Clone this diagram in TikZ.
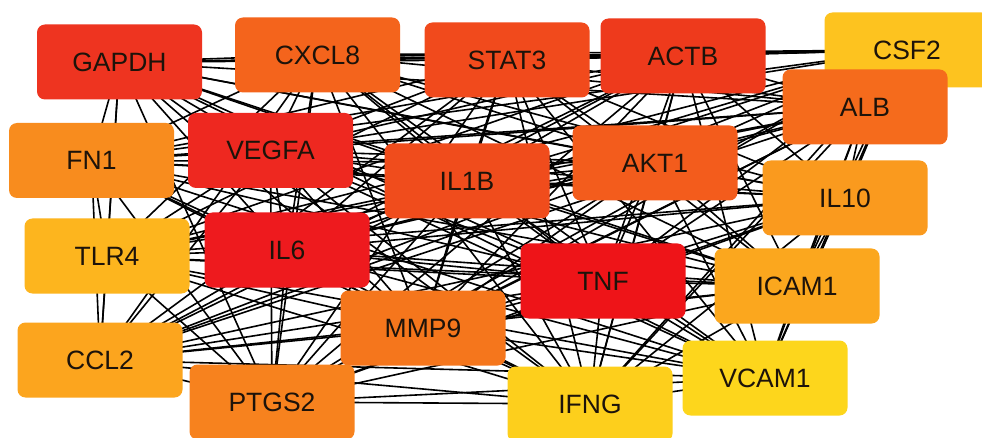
\documentclass[tikz,border=0pt]{standalone}
\usepackage{fontspec}
\setmainfont{Liberation Sans}
\pgfdeclarelayer{background}
\pgfsetlayers{background,main}
\definecolor{cGAPDH}{HTML}{EE3420}
\definecolor{cCXCL8}{HTML}{F4641C}
\definecolor{cSTAT3}{HTML}{F14A1C}
\definecolor{cACTB}{HTML}{EE3A1C}
\definecolor{cCSF2}{HTML}{FDC31F}
\definecolor{cALB}{HTML}{F56B1C}
\definecolor{cFNone}{HTML}{F88C1E}
\definecolor{cVEGFA}{HTML}{EE2820}
\definecolor{cILoneB}{HTML}{F04C1C}
\definecolor{cAKTone}{HTML}{F35C1C}
\definecolor{cILten}{HTML}{FA9A1E}
\definecolor{cTLRfour}{HTML}{FDB51E}
\definecolor{cILsix}{HTML}{EE1A1E}
\definecolor{cTNF}{HTML}{EE1418}
\definecolor{cICAMone}{HTML}{FBA71E}
\definecolor{cMMPnine}{HTML}{F5761C}
\definecolor{cCCLtwo}{HTML}{FCA51E}
\definecolor{cPTGStwo}{HTML}{F7821E}
\definecolor{cIFNG}{HTML}{FDCF1C}
\definecolor{cVCAMone}{HTML}{FDD61C}
\tikzset{
  gene/.style={rounded corners=8pt, minimum width=165pt, minimum height=75pt,
    inner sep=0pt, font=\fontsize{26.5}{26.5}\selectfont, text=black!85!brown},
  edge/.style={draw=black, line width=1.6pt}
}
\begin{document}
\begin{tikzpicture}[x=1pt,y=-1pt]
\useasboundingbox (0,0) rectangle (982,438);
\node[gene, fill=cGAPDH] (GAPDH) at (119.5,62) {GAPDH};
\node[gene, fill=cCXCL8] (CXCL8) at (317.5,55) {CXCL8};
\node[gene, fill=cSTAT3] (STAT3) at (507,60) {STAT3};
\node[gene, fill=cACTB] (ACTB) at (683,56) {ACTB};
\node[gene, fill=cCSF2] (CSF2) at (907,50) {CSF2};
\node[gene, fill=cALB] (ALB) at (865,107) {ALB};
\node[gene, fill=cFNone] (FN1) at (91.5,160.5) {FN1};
\node[gene, fill=cVEGFA] (VEGFA) at (270.5,150.5) {VEGFA};
\node[gene, fill=cILoneB] (IL1B) at (467,181) {IL1B};
\node[gene, fill=cAKTone] (AKT1) at (655,163) {AKT1};
\node[gene, fill=cILten] (IL10) at (845,198) {IL10};
\node[gene, fill=cTLRfour] (TLR4) at (107,256) {TLR4};
\node[gene, fill=cILsix] (IL6) at (287,250) {IL6};
\node[gene, fill=cTNF] (TNF) at (603,281) {TNF};
\node[gene, fill=cICAMone] (ICAM1) at (797,286) {ICAM1};
\node[gene, fill=cMMPnine] (MMP9) at (423,328) {MMP9};
\node[gene, fill=cCCLtwo] (CCL2) at (100,360) {CCL2};
\node[gene, fill=cPTGStwo] (PTGS2) at (272,402) {PTGS2};
\node[gene, fill=cIFNG] (IFNG) at (590,404) {IFNG};
\node[gene, fill=cVCAMone] (VCAM1) at (765,378) {VCAM1};
\begin{pgfonlayer}{background}
\fill[white] (0,0) rectangle (982,438);
\foreach \a [count=\i] in {GAPDH,CXCL8,STAT3,ACTB,CSF2,ALB,FN1,VEGFA,IL1B,AKT1,IL10,TLR4,IL6,TNF,ICAM1,MMP9,CCL2,PTGS2,IFNG,VCAM1} {
  \foreach \b [count=\j] in {GAPDH,CXCL8,STAT3,ACTB,CSF2,ALB,FN1,VEGFA,IL1B,AKT1,IL10,TLR4,IL6,TNF,ICAM1,MMP9,CCL2,PTGS2,IFNG,VCAM1} {
    \ifnum\j>\i \draw[edge] (\a.center) -- (\b.center); \fi
  }
}
\end{pgfonlayer}
\end{tikzpicture}
\end{document}
